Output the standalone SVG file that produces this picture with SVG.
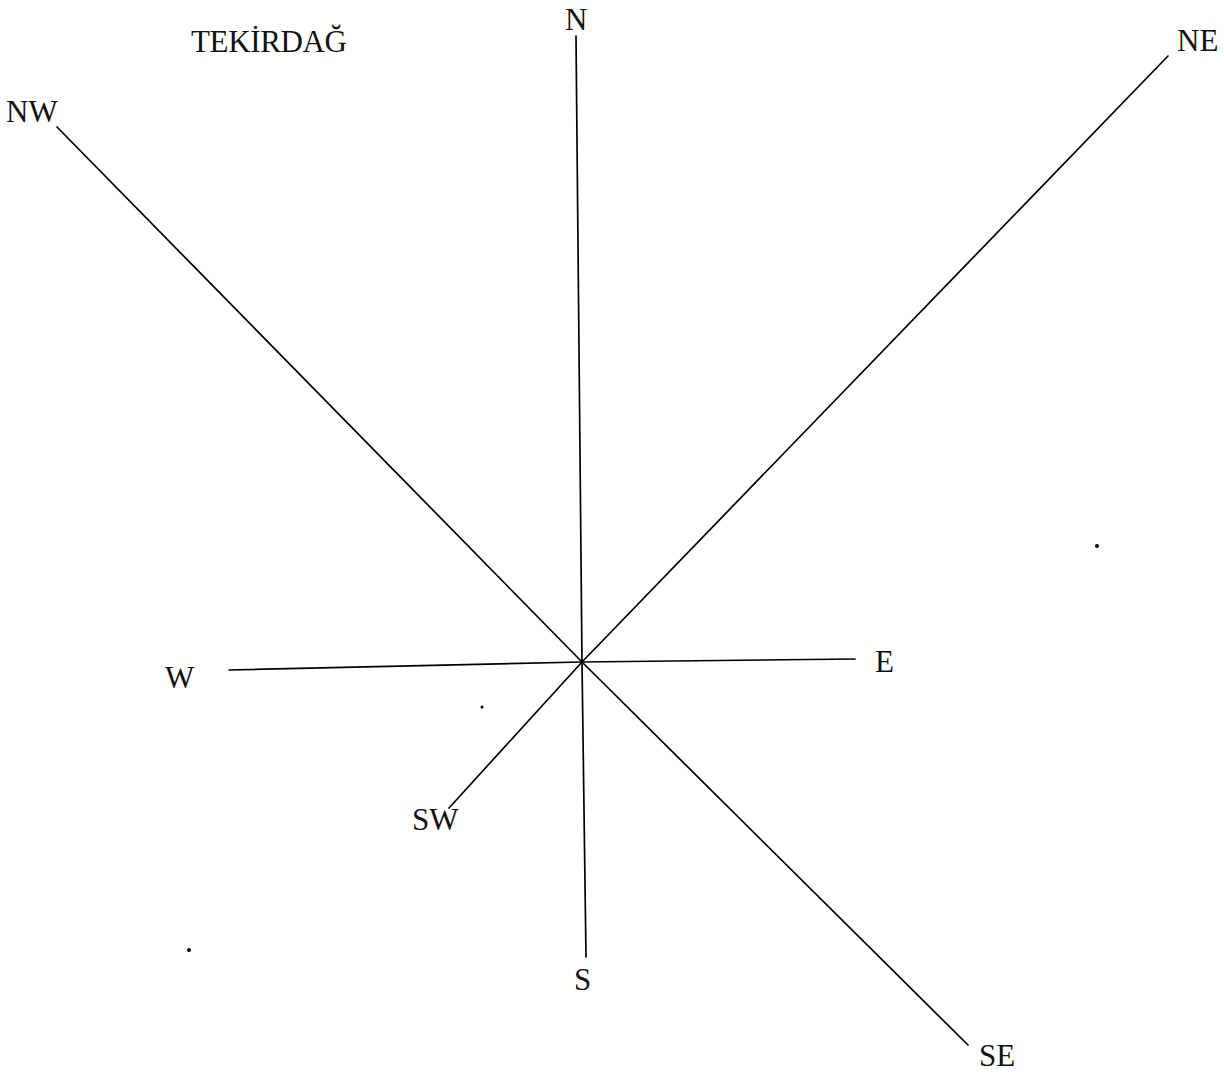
<svg xmlns="http://www.w3.org/2000/svg" width="1224" height="1077" viewBox="0 0 1224 1077">
<style>
.l{stroke:#000;stroke-width:1.7;fill:none;stroke-linecap:round}
.t{font-family:"Liberation Serif","DejaVu Serif",serif;font-size:31px;fill:#111}
</style>
<rect width="1224" height="1077" fill="#fff"/>
<g id="connectors">
<line class="l" x1="576" y1="36" x2="582" y2="662"/>
<line class="l" x1="582" y1="662" x2="586" y2="957"/>
<line class="l" x1="582" y1="662" x2="1168" y2="56"/>
<line class="l" x1="57" y1="127" x2="582" y2="662"/>
<line class="l" x1="582" y1="662" x2="968" y2="1045"/>
<line class="l" x1="449" y1="808" x2="582" y2="662"/>
<line class="l" x1="229" y1="670" x2="582" y2="662"/>
<line class="l" x1="582" y1="662" x2="855" y2="659"/>
</g>
<g id="title"><text class="t" x="191" y="52" font-size="27" textLength="156" lengthAdjust="spacing">TEKİRDAĞ</text></g>
<g id="N"><text class="t" x="565" y="30">N</text></g>
<g id="NE"><text class="t" x="1177" y="51">NE</text></g>
<g id="NW"><text class="t" x="6" y="122">NW</text></g>
<g id="W"><text class="t" x="165" y="688">W</text></g>
<g id="E"><text class="t" x="875" y="672">E</text></g>
<g id="SW"><text class="t" x="412" y="830">SW</text></g>
<g id="S"><text class="t" x="574" y="990">S</text></g>
<g id="SE"><text class="t" x="979" y="1066">SE</text></g>
<g id="marks" fill="#000">
<circle cx="1097" cy="546" r="2"/>
<circle cx="189" cy="950" r="2"/>
<circle cx="482" cy="707" r="1.5"/>
</g>
</svg>
